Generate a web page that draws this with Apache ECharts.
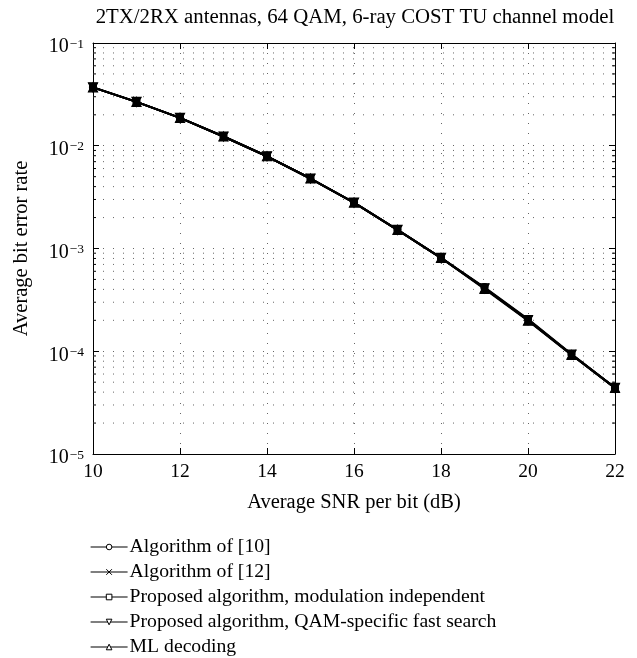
<!DOCTYPE html>
<html>
<head>
<meta charset="utf-8">
<script src="https://cdn.jsdelivr.net/npm/echarts@6/dist/echarts.min.js"></script>
<style>
html,body{margin:0;padding:0;background:#fff;}
#chart{width:637px;height:658px;}
</style>
</head>
<body>
<div id="chart"></div>
<script>
// ---- data ----
var snr = [10, 11, 12, 13, 14, 15, 16, 17, 18, 19, 20, 21, 22];
var alg10   = [0.037, 0.0267, 0.0187, 0.0123, 0.0079, 0.0048, 0.0028, 0.00152, 0.00081, 0.00042, 0.000206, 0.000094, 0.000044];
var alg12   = [0.037, 0.0267, 0.0187, 0.0123, 0.0079, 0.0048, 0.0028, 0.00152, 0.00081, 0.00041, 0.000200, 0.000093, 0.000044];
var propInd = [0.037, 0.0267, 0.0187, 0.0123, 0.0079, 0.0048, 0.0028, 0.00152, 0.00081, 0.000415, 0.000203, 0.000093, 0.000044];
var propQam = [0.037, 0.0267, 0.0187, 0.0123, 0.0079, 0.0048, 0.0028, 0.00152, 0.00081, 0.00041, 0.000201, 0.000093, 0.000044];
var mlDec   = [0.037, 0.0267, 0.0187, 0.0123, 0.0079, 0.0048, 0.0028, 0.00152, 0.00081, 0.000405, 0.000198, 0.000092, 0.000044];
var seriesNames = [
  'Algorithm of [10]',
  'Algorithm of [12]',
  'Proposed algorithm, modulation independent',
  'Proposed algorithm, QAM-specific fast search',
  'ML decoding'
];
var xTicks = [10, 12, 14, 16, 18, 20, 22];
var yDecades = [-5, -4, -3, -2, -1];
var titleText = '2TX/2RX antennas, 64 QAM, 6-ray COST TU channel model';
var xName = 'Average SNR per bit (dB)';
var yName = 'Average bit error rate';

// minor log ticks (2..9 x decade)
var minorVals = [];
for (var d = 0; d < yDecades.length - 1; d++) {
  for (var m = 2; m <= 9; m++) minorVals.push(m * Math.pow(10, yDecades[d]));
}

var FONT = 'Liberation Serif';
var dotted = {color: '#666', width: 1, type: [1, 9]};

function pairs(arr) { return snr.map(function (x, i) { return [x, arr[i]]; }); }

var symbols = [
  'circle',
  'path://M0,0L10,10M10,0L0,10',
  'rect',
  'path://M0,0L10,0L5,9Z',
  'path://M5,0L10,9L0,9Z'
];
var symbolSizes = [7, 9, 6, 9, 9];
var symbolZ = [8, 6, 5, 6, 6];
var allData = [alg10, alg12, propInd, propQam, mlDec];

var series = allData.map(function (arr, i) {
  return {
    name: seriesNames[i],
    type: 'line',
    data: pairs(arr),
    symbol: symbols[i],
    symbolSize: symbolSizes[i],
    showSymbol: true,
    lineStyle: {color: '#000', width: 2},
    itemStyle: {color: '#000', borderColor: '#000', borderWidth: 1.2},
    emphasis: {disabled: true},
    z: symbolZ[i]
  };
});

series.push({
  type: 'custom',
  name: 'minorGrid',
  silent: true,
  z: 1,
  data: minorVals.map(function (v) { return [xTicks[0], v]; }),
  renderItem: function (params, api) {
    var v = api.value(1);
    var p0 = api.coord([xTicks[0], v]);
    var p1 = api.coord([xTicks[xTicks.length - 1], v]);
    return {
      type: 'group',
      children: [
        {type: 'line', shape: {x1: p0[0], y1: p0[1], x2: p1[0], y2: p1[1]},
         style: {stroke: dotted.color, lineWidth: 1, lineDash: dotted.type}},
        {type: 'line', shape: {x1: p0[0], y1: p0[1], x2: p0[0] + 3, y2: p0[1]},
         style: {stroke: '#000', lineWidth: 1}},
        {type: 'line', shape: {x1: p1[0], y1: p1[1], x2: p1[0] - 3, y2: p1[1]},
         style: {stroke: '#000', lineWidth: 1}}
      ]
    };
  }
});

var chart = echarts.init(document.getElementById('chart'), null, {renderer: 'canvas'});
chart.setOption({
  animation: false,
  backgroundColor: '#fff',
  textStyle: {fontFamily: FONT, color: '#000'},
  title: {
    text: titleText,
    left: 350, top: 2, textAlign: 'center',
    textStyle: {fontFamily: FONT, fontSize: 20.8, fontWeight: 'normal', color: '#000'}
  },
  grid: {left: 93, right: 22, top: 43, bottom: 204, show: false},
  legend: {
    data: seriesNames,
    orient: 'vertical',
    left: 90, top: 537,
    padding: 0,
    itemGap: 5,
    itemWidth: 37,
    itemHeight: 7,
    selectedMode: false,
    textStyle: {fontFamily: FONT, fontSize: 19.7, color: '#000', lineHeight: 20, padding: [0, 0, 0, -3]},
    itemStyle: {color: '#fff', borderColor: '#000', borderWidth: 1},
    lineStyle: {color: '#000', width: 1.2}
  },
  xAxis: [{
    type: 'value', min: 10, max: 22, interval: 2,
    position: 'bottom',
    name: xName, nameLocation: 'middle', nameGap: 38,
    nameTextStyle: {fontFamily: FONT, fontSize: 20.5, color: '#000'},
    axisLine: {show: true, lineStyle: {color: '#000', width: 1}},
    axisTick: {show: true, inside: true, length: 6, lineStyle: {color: '#000'}},
    axisLabel: {fontFamily: FONT, fontSize: 19.5, color: '#000', margin: 8},
    splitLine: {show: true, lineStyle: dotted}
  }, {
    type: 'value', min: 10, max: 22, interval: 2,
    position: 'top',
    axisLine: {show: true, lineStyle: {color: '#000', width: 1}},
    axisTick: {show: true, inside: true, length: 6, lineStyle: {color: '#000'}},
    axisLabel: {show: false},
    splitLine: {show: false}
  }],
  yAxis: [{
    type: 'log', logBase: 10, min: 1e-5, max: 1e-1,
    position: 'left',
    name: yName, nameLocation: 'middle', nameGap: 61, nameRotate: 90,
    nameTextStyle: {fontFamily: FONT, fontSize: 20.5, color: '#000'},
    axisLine: {show: true, lineStyle: {color: '#000', width: 1}},
    axisTick: {show: true, inside: true, length: 6, lineStyle: {color: '#000'}},
    axisLabel: {
      margin: 9,
      formatter: function (v) {
        var e = Math.round(Math.log10(v));
        return '{b|10}{s|' + (e < 0 ? '\u2212' + (-e) : e) + '}';
      },
      rich: {
        b: {fontFamily: FONT, fontSize: 20, lineHeight: 20, padding: [8, 0, 0, 0], color: '#000'},
        s: {fontFamily: FONT, fontSize: 13.5, lineHeight: 14, padding: [4, 0, 0, 1], verticalAlign: 'top', color: '#000'}
      }
    },
    splitLine: {show: true, lineStyle: dotted}
  }, {
    type: 'log', logBase: 10, min: 1e-5, max: 1e-1,
    position: 'right',
    axisLine: {show: true, lineStyle: {color: '#000', width: 1}},
    axisTick: {show: true, inside: true, length: 6, lineStyle: {color: '#000'}},
    axisLabel: {show: false},
    splitLine: {show: false}
  }],
  series: series
});
</script>
</body>
</html>
